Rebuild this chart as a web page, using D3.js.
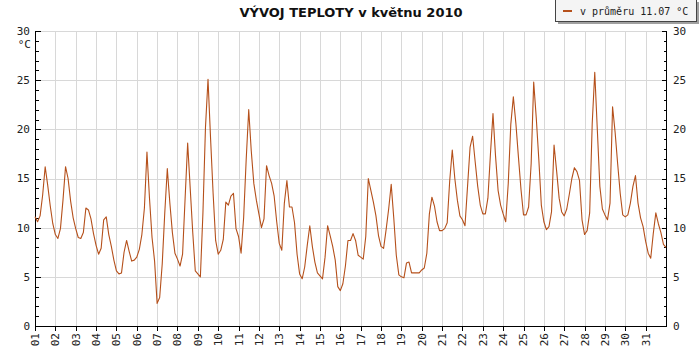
<!DOCTYPE html>
<html>
<head>
<meta charset="utf-8">
<script src="https://cdn.jsdelivr.net/npm/d3@7/dist/d3.min.js"></script>
<style>
  body { margin: 0; background: #fff; }
  svg { display: block; }
</style>
</head>
<body>
<svg id="chart" width="700" height="350"></svg>
<script>
// ---- data ----
const titleText = "VÝVOJ TEPLOTY v květnu 2010";
const legendText = "v průměru 11.07 °C";
const unitLabel = "°C";
const dayLabels = ["01","02","03","04","05","06","07","08","09","10","11","12","13","14","15","16",
                   "17","18","19","20","21","22","23","24","25","26","27","28","29","30","31"];
const yTicks = [0, 5, 10, 15, 20, 25, 30];
const hoursOfDay = [0, 3, 6, 9, 12, 15, 18, 21];
// temperature every 3 hours (°C), one row per day
const temps = [
  [11.1, 10.6, 11.2, 13.3, 16.2, 14.3, 12.2, 10.4],
  [ 9.3,  8.9,  9.9, 12.8, 16.2, 15.0, 12.7, 11.0],
  [ 9.9,  9.0,  8.9,  9.5, 12.0, 11.8, 10.9,  9.4],
  [ 8.2,  7.3,  7.9, 10.8, 11.1,  9.3,  8.1,  6.7],
  [ 5.6,  5.3,  5.4,  7.5,  8.7,  7.6,  6.6,  6.7],
  [ 7.0,  7.8,  9.3, 12.0, 17.7, 13.0,  9.0,  6.6],
  [ 2.3,  2.9,  6.3, 11.5, 16.0, 12.5,  9.5,  7.4],
  [ 6.8,  6.1,  7.3, 13.0, 18.6, 14.0,  9.5,  5.6],
  [ 5.3,  5.0, 11.5, 20.2, 25.1, 19.1, 13.5,  8.7],
  [ 7.3,  7.7,  8.8, 12.6, 12.3, 13.2, 13.5,  9.9],
  [ 9.1,  7.4, 11.0, 16.9, 22.0, 17.8, 14.5, 12.8],
  [11.4, 10.0, 10.9, 16.3, 15.3, 14.5, 13.2, 10.6],
  [ 8.4,  7.7, 12.5, 14.8, 12.1, 12.1, 10.5,  7.3],
  [ 5.3,  4.8,  6.0,  8.2, 10.2,  8.1,  6.5,  5.4],
  [ 5.1,  4.8,  7.0, 10.2,  9.2,  8.1,  6.7,  4.0],
  [ 3.6,  4.3,  6.1,  8.7,  8.7,  9.4,  8.7,  7.2],
  [ 7.0,  6.8,  9.1, 15.0, 13.8, 12.6, 11.2,  9.2],
  [ 8.1,  7.9,  9.8, 11.9, 14.4, 11.0,  7.2,  5.2],
  [ 5.0,  4.9,  6.4,  6.5,  5.4,  5.4,  5.4,  5.4],
  [ 5.7,  5.9,  7.4, 11.4, 13.1, 12.2, 10.6,  9.7],
  [ 9.7,  9.9, 10.5, 14.8, 17.9, 15.0, 12.8, 11.2],
  [10.8, 10.2, 14.2, 18.2, 19.3, 16.7, 14.2, 12.3],
  [11.4, 11.4, 13.0, 17.5, 21.6, 17.3, 13.8, 12.3],
  [11.4, 10.6, 14.5, 20.5, 23.3, 20.6, 17.2, 13.9],
  [11.3, 11.3, 12.1, 16.5, 24.8, 21.2, 17.0, 12.3],
  [10.6,  9.8, 10.1, 11.6, 18.4, 15.8, 13.0, 11.6],
  [11.2, 11.9, 13.4, 15.0, 16.1, 15.7, 14.8, 10.8],
  [ 9.3,  9.7, 11.5, 20.6, 25.8, 20.0, 14.2, 11.9],
  [11.3, 10.8, 12.5, 22.3, 19.7, 16.5, 13.5, 11.3],
  [11.1, 11.3, 12.5, 14.2, 15.3, 12.5, 11.0, 10.1],
  [ 8.6,  7.4,  6.9,  9.4, 11.5, 10.4,  9.5,  8.3]
];
const finalValue = 8.0; // 31.5. 24:00

// ---- build series ----
const series = [];
temps.forEach((row, d) => row.forEach((v, i) => series.push({ t: d + hoursOfDay[i] / 24, v })));
series.push({ t: temps.length, v: finalValue });

// ---- layout ----
const svg = d3.select("#chart");
const L = 35, R = 666, T = 31, B = 326;
const x = d3.scaleLinear().domain([0, dayLabels.length]).range([L, R]);
const y = d3.scaleLinear().domain([0, 30]).range([B, T]);
const lineColor = "#b5501b";
const monoFont = "'DejaVu Sans Mono', monospace";

// grid
const grid = svg.append("g").attr("shape-rendering", "crispEdges");
grid.selectAll("line.h").data(yTicks.filter(d => d > 0)).join("line")
  .attr("x1", L).attr("x2", R)
  .attr("y1", d => Math.round(y(d)) + 0.5).attr("y2", d => Math.round(y(d)) + 0.5)
  .attr("stroke", "#d8d8d8");
grid.selectAll("line.v").data(d3.range(1, dayLabels.length)).join("line")
  .attr("x1", d => Math.round(x(d)) + 0.5).attr("x2", d => Math.round(x(d)) + 0.5)
  .attr("y1", T).attr("y2", B)
  .attr("stroke", "#d8d8d8");

// axes
const leftAxis = d3.axisLeft(y).tickValues(d3.range(0, 31)).tickSize(0).tickFormat("");
const axL = svg.append("g").attr("transform", `translate(${L + 0.5},0)`).call(leftAxis);
axL.select(".domain").remove();
axL.append("line").attr("x1", 0).attr("x2", 0).attr("y1", T).attr("y2", B + 0.5).attr("stroke", "#000");
axL.selectAll(".tick line").attr("x2", d => d % 5 === 0 ? 5 : 3).attr("stroke", "#000");

const rightAxis = d3.axisRight(y).tickValues(d3.range(0, 31)).tickSize(0).tickFormat("");
const axR = svg.append("g").attr("transform", `translate(${R + 0.5},0)`).call(rightAxis);
axR.select(".domain").remove();
axR.append("line").attr("x1", 0).attr("x2", 0).attr("y1", T).attr("y2", B + 0.5).attr("stroke", "#000");
axR.selectAll(".tick line").attr("x2", d => d % 5 === 0 ? -5 : -3).attr("stroke", "#000");
[axL, axR].forEach(a => a.attr("shape-rendering", "crispEdges"));

// y labels
svg.append("g").selectAll("text").data(yTicks).join("text")
  .attr("x", 30).attr("y", d => y(d)).attr("dy", "0.36em")
  .attr("text-anchor", "end").attr("font-family", monoFont).attr("font-size", 11).attr("fill", "#222")
  .text(d => d);
svg.append("g").selectAll("text").data(yTicks).join("text")
  .attr("x", 673).attr("y", d => y(d)).attr("dy", "0.36em")
  .attr("text-anchor", "start").attr("font-family", monoFont).attr("font-size", 11).attr("fill", "#222")
  .text(d => d);
svg.append("text").attr("x", 31).attr("y", 44).attr("dy", "0.36em")
  .attr("text-anchor", "end").attr("font-family", monoFont).attr("font-size", 11).attr("fill", "#222")
  .text(unitLabel);

// bottom axis
const bottomAxis = d3.axisBottom(x).tickValues(d3.range(0, dayLabels.length)).tickSize(4).tickFormat("");
const axB = svg.append("g").attr("transform", `translate(0,${B + 0.5})`).attr("shape-rendering", "crispEdges").call(bottomAxis);
axB.select(".domain").attr("d", `M${L},0H${R + 0.5}`).attr("stroke", "#000");
axB.selectAll(".tick line").attr("stroke", "#000");
svg.append("g").selectAll("text").data(dayLabels).join("text")
  .attr("transform", (d, i) => `translate(${x(i)},333) rotate(-90)`)
  .attr("dy", "0.36em").attr("text-anchor", "end")
  .attr("font-family", monoFont).attr("font-size", 11).attr("fill", "#222")
  .text(d => d);

// line
const line = d3.line().x(d => x(d.t)).y(d => y(d.v));
svg.append("path").datum(series)
  .attr("d", line).attr("fill", "none")
  .attr("stroke", lineColor).attr("stroke-width", 1.1).attr("stroke-linejoin", "round");

// title
svg.append("text").attr("x", 351).attr("y", 17).attr("text-anchor", "middle")
  .attr("font-family", "'DejaVu Sans', Verdana, sans-serif").attr("font-weight", "bold")
  .attr("font-size", 13).attr("fill", "#111").text(titleText);

// legend
const lg = svg.append("g").attr("shape-rendering", "crispEdges");
lg.append("rect").attr("x", 558).attr("y", 2).attr("width", 141).attr("height", 22).attr("fill", "#a0a0a0");
lg.append("rect").attr("x", 555.5).attr("y", -0.5).attr("width", 141).attr("height", 22)
  .attr("fill", "#f4f4f4").attr("stroke", "#444");
lg.append("rect").attr("x", 563).attr("y", 10).attr("width", 9).attr("height", 2).attr("fill", lineColor);
svg.append("text").attr("x", 580).attr("y", 11).attr("dy", "0.36em")
  .attr("font-family", monoFont).attr("font-size", 10).attr("fill", "#222").text(legendText);
</script>
</body>
</html>
